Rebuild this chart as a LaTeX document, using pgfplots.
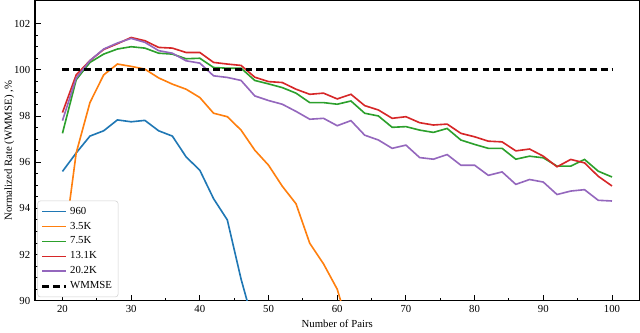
\documentclass[border=0pt]{standalone}
\usepackage{fontspec}
\setmainfont{Liberation Serif}
\usepackage{pgfplots}
\pgfplotsset{compat=1.18}

\definecolor{tabblue}{HTML}{1F77B4}
\definecolor{taborange}{HTML}{FF7F0E}
\definecolor{tabgreen}{HTML}{2CA02C}
\definecolor{tabred}{HTML}{D62728}
\definecolor{tabpurple}{HTML}{9467BD}

\begin{document}
\begin{tikzpicture}
\begin{axis}[
    scale only axis,
    width=449pt,
    height=223pt,
    xmin=16, xmax=104,
    ymin=90, ymax=103,
    xtick={20,30,...,100},
    ytick={90,92,...,102},
    minor x tick num=1,
    minor y tick num=3,
    tick align=inside,
    xtick pos=bottom,
    ytick pos=left,
    major tick length=4.5pt,
    minor tick length=2.3pt,
    every tick/.style={black, line width=0.7pt},
    axis line style={line width=0.8pt},
    tick label style={font=\footnotesize},
    /pgf/number format/assume math mode=true,
    xlabel={Number of Pairs},
    ylabel={Normalized Rate (WMMSE) ,\%},
    label style={font=\footnotesize},
    xlabel style={yshift=1.5pt},
    ylabel style={yshift=-7pt},
    legend style={at={(0.004,0.012)}, anchor=south west, draw=black!18,
        rounded corners=2pt, fill=white,
        font=\footnotesize, inner sep=2.5pt, row sep=0.3pt},
    legend cell align=left,
    legend image code/.code={\draw[#1] (0cm,0cm) -- (0.62cm,0cm);},
    every axis plot/.append style={line width=1.2pt, no markers},
]
\addplot[color=tabblue] coordinates {
(20,95.6) (22,96.4) (24,97.13) (26,97.36) (28,97.83) (30,97.75) (32,97.81)
(34,97.36) (36,97.13) (38,96.23) (40,95.65) (42,94.42) (44,93.5) (46,90.94) (48,88.8)};
\addlegendentry{960}
\addplot[color=taborange] coordinates {
(20,91.9) (22,96.4) (24,98.58) (26,99.78) (28,100.25) (30,100.15) (32,100.03)
(34,99.65) (36,99.38) (38,99.16) (40,98.8) (42,98.12) (44,97.97) (46,97.39)
(48,96.52) (50,95.87) (52,94.96) (54,94.2) (56,92.49) (58,91.6) (60,90.5) (62,88.5)};
\addlegendentry{3.5K}
\addplot[color=tabgreen] coordinates {
(20,97.25) (22,99.57) (24,100.32) (26,100.68) (28,100.9) (30,101.0) (32,100.94)
(34,100.72) (36,100.68) (38,100.48) (40,100.5) (42,100.1) (44,100.07) (46,100.07)
(48,99.54) (50,99.39) (52,99.23) (54,98.99) (56,98.58) (58,98.58) (60,98.51)
(62,98.65) (64,98.12) (66,98.0) (68,97.51) (70,97.54) (72,97.39) (74,97.29)
(76,97.46) (78,96.96) (80,96.77) (82,96.6) (84,96.6) (86,96.13) (88,96.26)
(90,96.19) (92,95.83) (94,95.83) (96,96.12) (98,95.61) (100,95.36)};
\addlegendentry{7.5K}
\addplot[color=tabred] coordinates {
(20,98.15) (22,99.78) (24,100.4) (26,100.88) (28,101.13) (30,101.4) (32,101.26)
(34,100.97) (36,100.94) (38,100.75) (40,100.75) (42,100.32) (44,100.25) (46,100.19)
(48,99.68) (50,99.49) (52,99.45) (54,99.16) (56,98.94) (58,98.99) (60,98.74)
(62,98.94) (64,98.45) (66,98.26) (68,97.9) (70,97.97) (72,97.71) (74,97.61)
(76,97.65) (78,97.25) (80,97.1) (82,96.91) (84,96.88) (86,96.49) (88,96.57)
(90,96.26) (92,95.8) (94,96.12) (96,95.97) (98,95.39) (100,94.97)};
\addlegendentry{13.1K}
\addplot[color=tabpurple] coordinates {
(20,97.8) (22,99.64) (24,100.4) (26,100.9) (28,101.16) (30,101.36) (32,101.19)
(34,100.83) (36,100.72) (38,100.39) (40,100.29) (42,99.74) (44,99.67) (46,99.54)
(48,98.87) (50,98.67) (52,98.51) (54,98.2) (56,97.86) (58,97.9) (60,97.58)
(62,97.8) (64,97.17) (66,96.96) (68,96.6) (70,96.74) (72,96.2) (74,96.13)
(76,96.33) (78,95.87) (80,95.87) (82,95.43) (84,95.58) (86,95.04) (88,95.25)
(90,95.14) (92,94.6) (94,94.75) (96,94.81) (98,94.35) (100,94.32)};
\addlegendentry{20.2K}
\addplot[color=black, line width=2pt, dash pattern=on 5pt off 3pt] coordinates {
(20,100) (100,100)};
\addlegendentry{WMMSE}
\end{axis}
\end{tikzpicture}
\end{document}
